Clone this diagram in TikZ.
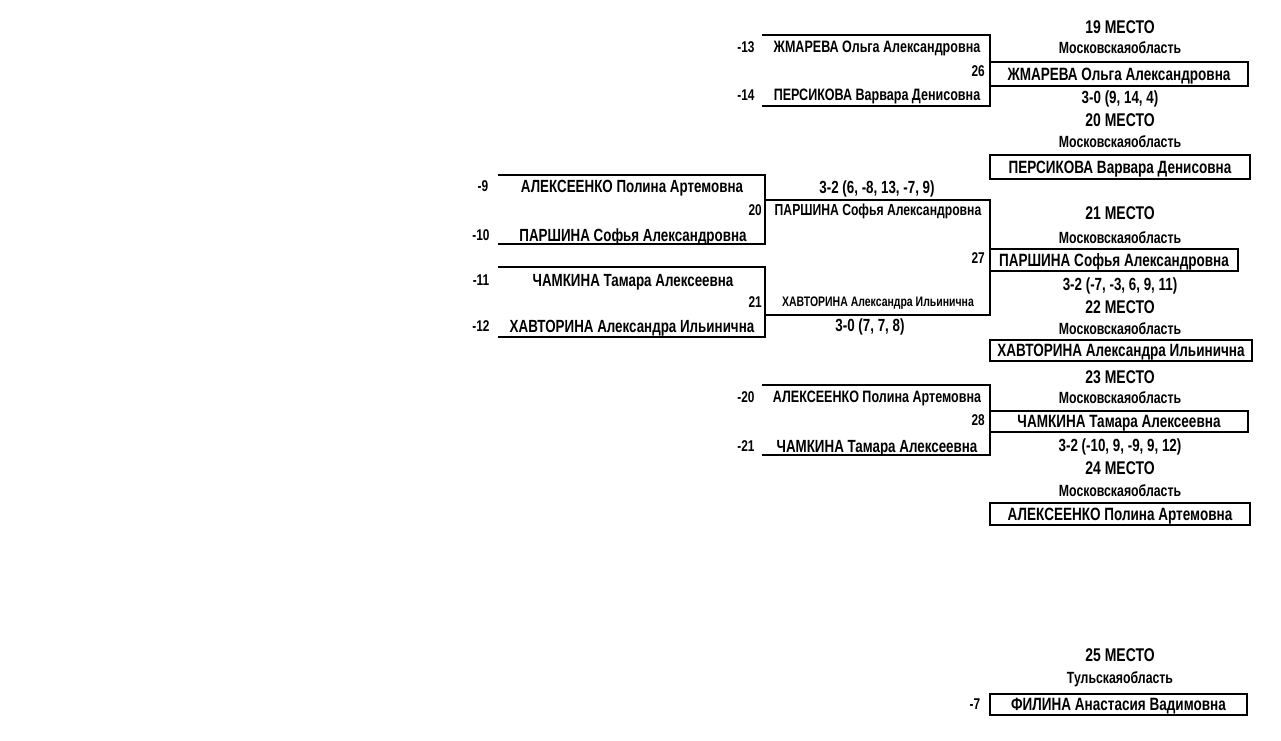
\documentclass[tikz,border=0pt]{standalone}
\usepackage{fontspec}
\setmainfont{Liberation Sans}[FakeStretch=0.76]
\newcommand{\fs}[1]{\fontsize{#1}{#1}\selectfont}
\begin{document}
\begin{tikzpicture}[x=1pt,y=-1pt,
  every node/.style={inner sep=0pt, font=\bfseries, text depth=0pt},
  line/.style={line width=1.9pt},
  pbox/.style={draw, line width=1.9pt, inner sep=0pt, font=\bfseries\fs{17.8}, text height=12.8pt},
  place/.style={font=\bfseries\fs{18.4}, text height=13.2pt},
  region/.style={font=\bfseries\fs{16.2}, text height=11.6pt},
  score/.style={font=\bfseries\fs{17.6}, text height=12.6pt},
  seed/.style={font=\bfseries\fs{15.6}, text height=11.2pt},
  lname/.style={font=\bfseries\fs{17.6}, text height=12.6pt},
  sname/.style={font=\bfseries\fs{16.5}, text height=11.9pt},
  tname/.style={font=\bfseries\fs{16}, text height=11.5pt},
  uname/.style={font=\bfseries\fs{13.8}, text height=9.9pt}]
\useasboundingbox[fill=white] (0,0) rectangle (1281,740);

% ---------- bracket 26 ----------
\node[seed] (s13) at (746,47) {-13};
\node[sname] (n13) at (877,47) {ЖМАРЕВА Ольга Александровна};
\node[seed,anchor=east] (m26) at (985,71) {26};
\node[seed] (s14) at (746,95) {-14};
\node[sname] (n14) at (877,95) {ПЕРСИКОВА Варвара Денисовна};
\coordinate (a26) at (762,35);
\coordinate (b26) at (990,35);
\coordinate (c26) at (990,106);
\coordinate (d26) at (762,106);
\draw[line] (a26) -- (b26) -- (c26) -- (d26);

% ---------- bracket 20 ----------
\node[seed] (s9) at (483,186) {-9};
\node[lname] (n9) at (632,186) {АЛЕКСЕЕНКО Полина Артемовна};
\node[seed,anchor=east] (m20) at (762,210) {20};
\node[seed] (s10) at (481,235) {-10};
\node[lname] (n10) at (633,235) {ПАРШИНА Софья Александровна};
\coordinate (a20) at (498,175);
\coordinate (b20) at (765,175);
\coordinate (c20) at (765,244);
\coordinate (d20) at (498,244);
\draw[line] (a20) -- (b20) -- (c20) -- (d20);

% ---------- bracket 21 ----------
\node[seed] (s11) at (481,280) {-11};
\node[lname] (n11) at (633,280) {ЧАМКИНА Тамара Алексеевна};
\node[seed,anchor=east] (m21) at (762,302) {21};
\node[seed] (s12) at (481,326) {-12};
\node[lname] (n12) at (632,326) {ХАВТОРИНА Александра Ильинична};
\coordinate (a21) at (498,267);
\coordinate (b21) at (765,267);
\coordinate (c21) at (765,337);
\coordinate (d21) at (498,337);
\draw[line] (a21) -- (b21) -- (c21) -- (d21);

% ---------- bracket 27 ----------
\node[score] (r20) at (877,187) {3-2 (6, -8, 13, -7, 9)};
\node[tname] (w20) at (878,210) {ПАРШИНА Софья Александровна};
\node[seed,anchor=east] (m27) at (985,258) {27};
\node[uname] (w21) at (878,302) {ХАВТОРИНА Александра Ильинична};
\node[score] (r21) at (870,325) {3-0 (7, 7, 8)};
\coordinate (a27) at (765,200);
\coordinate (b27) at (990,200);
\coordinate (c27) at (990,315);
\coordinate (d27) at (765,315);
\draw[line] (a27) -- (b27) -- (c27) -- (d27);

% ---------- bracket 28 ----------
\node[seed] (s20) at (746,397) {-20};
\node[sname] (n20) at (877,397) {АЛЕКСЕЕНКО Полина Артемовна};
\node[seed,anchor=east] (m28) at (985,420) {28};
\node[seed] (s21) at (746,446) {-21};
\node[lname] (n21) at (877,446) {ЧАМКИНА Тамара Алексеевна};
\coordinate (a28) at (762,385);
\coordinate (b28) at (990,385);
\coordinate (c28) at (990,455);
\coordinate (d28) at (762,455);
\draw[line] (a28) -- (b28) -- (c28) -- (d28);

% ---------- places ----------
\node[place] (t19) at (1120,27) {19 МЕСТО};
\node[region] (g19) at (1120,48) {Московскаяобласть};
\node[pbox, minimum width=258pt, minimum height=24pt] (p19) at (1119,74) {ЖМАРЕВА Ольга Александровна};
\node[score] (r26) at (1120,97) {3-0 (9, 14, 4)};
\node[place] (t20) at (1120,120) {20 МЕСТО};
\node[region] (g20) at (1120,142) {Московскаяобласть};
\node[pbox, minimum width=260pt, minimum height=24pt] (p20) at (1120,167) {ПЕРСИКОВА Варвара Денисовна};

\node[place] (t21) at (1120,213) {21 МЕСТО};
\node[region] (g21) at (1120,238) {Московскаяобласть};
\node[pbox, minimum width=248pt, minimum height=22pt] (p21) at (1114,260) {ПАРШИНА Софья Александровна};
\node[score] (r27) at (1120,284) {3-2 (-7, -3, 6, 9, 11)};
\node[place] (t22) at (1120,307) {22 МЕСТО};
\node[region] (g22) at (1120,329) {Московскаяобласть};
\node[pbox, minimum width=262pt, minimum height=21pt] (p22) at (1121,350.5) {ХАВТОРИНА Александра Ильинична};

\node[place] (t23) at (1120,377) {23 МЕСТО};
\node[region] (g23) at (1120,398) {Московскаяобласть};
\node[pbox, minimum width=258pt, minimum height=21pt] (p23) at (1119,421.5) {ЧАМКИНА Тамара Алексеевна};
\node[score] (r28) at (1120,445) {3-2 (-10, 9, -9, 9, 12)};
\node[place] (t24) at (1120,468) {24 МЕСТО};
\node[region] (g24) at (1120,491) {Московскаяобласть};
\node[pbox, minimum width=260pt, minimum height=22pt] (p24) at (1120,514) {АЛЕКСЕЕНКО Полина Артемовна};

\node[place] (t25) at (1120,655) {25 МЕСТО};
\node[region] (g25) at (1120,678) {Тульскаяобласть};
\node[seed] (s7) at (975,704) {-7};
\node[pbox, minimum width=257pt, minimum height=21pt] (p25) at (1118.5,704.5) {ФИЛИНА Анастасия Вадимовна};
\end{tikzpicture}
\end{document}
